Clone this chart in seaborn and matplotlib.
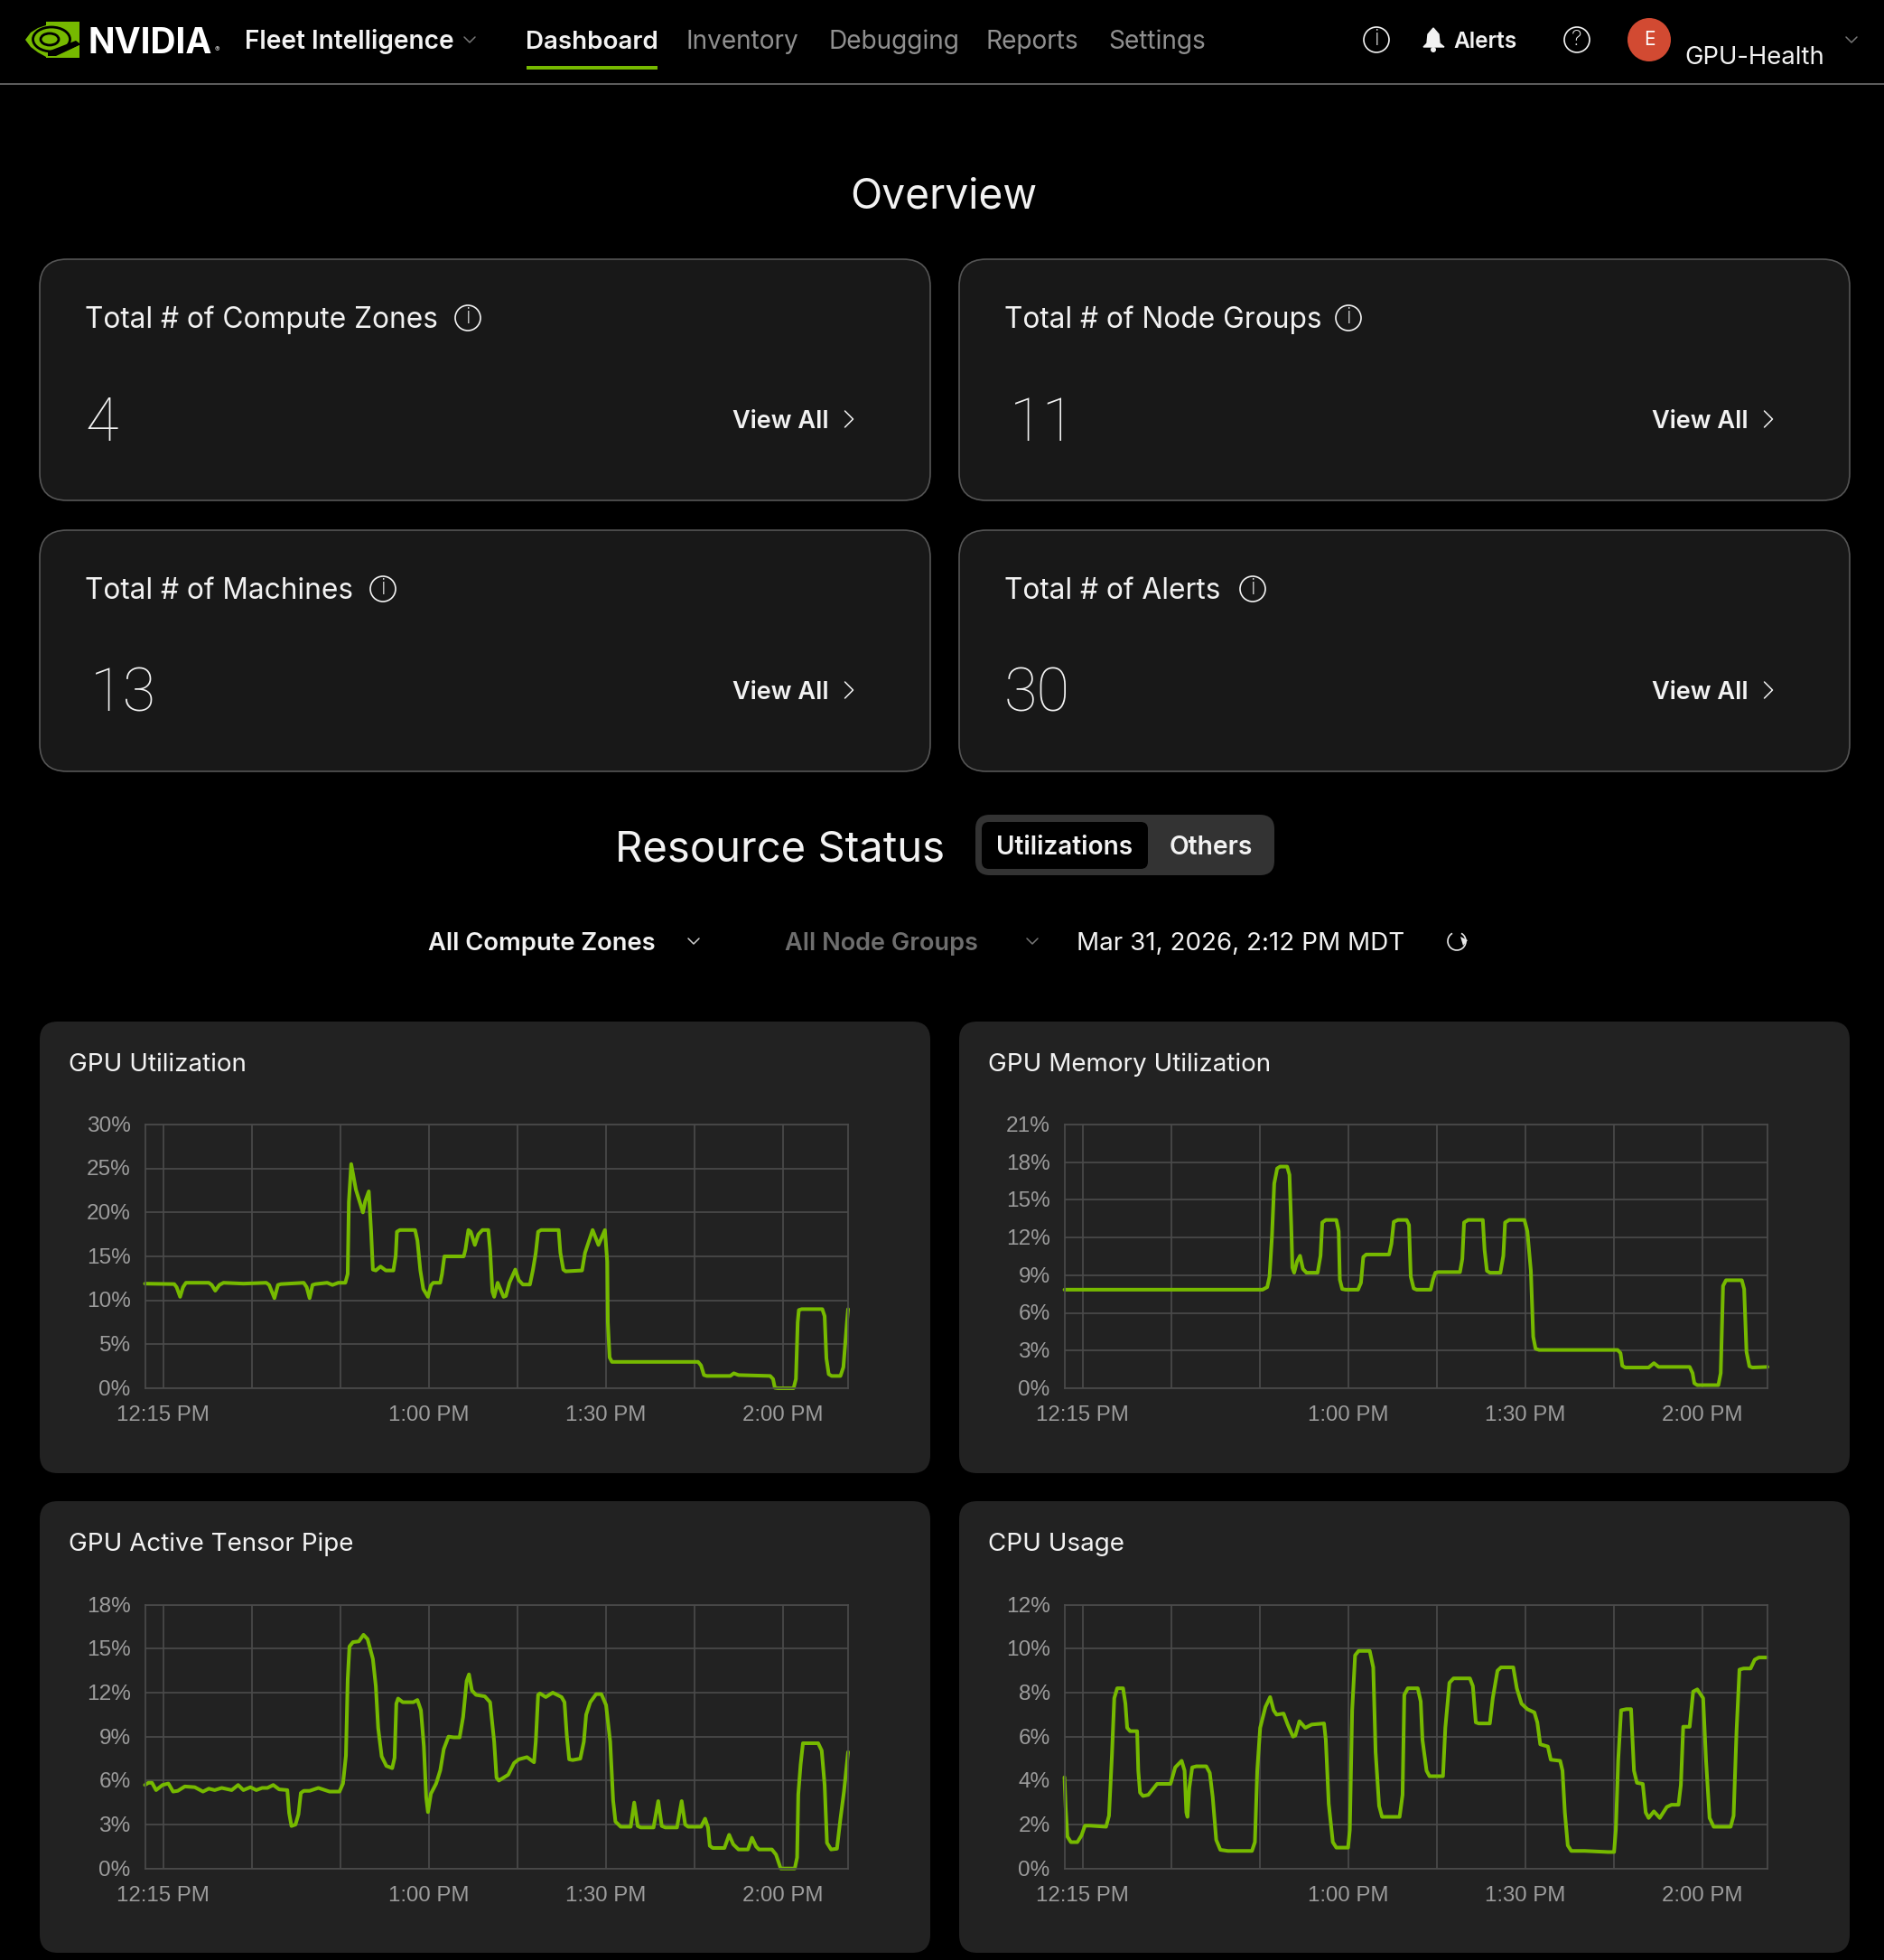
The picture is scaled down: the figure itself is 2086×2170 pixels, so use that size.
import matplotlib
matplotlib.use("Agg")
import matplotlib.pyplot as plt
import seaborn as sns
from matplotlib.patches import FancyBboxPatch, Circle, Rectangle, Ellipse, Arc, Polygon
from matplotlib.transforms import ScaledTranslation

W, H = 2086, 2170
GREEN = "#76b900"
GRID = "#4b4b4b"
UI_FONT = ["Inter", "DejaVu Sans"]

# minutes after 12:12 PM, the axis spans these 120 units
tick_minutes = [3.1, 18.3, 33.4, 48.5, 63.6, 78.7, 93.8, 108.9]
tick_labels = ["12:15 PM", "", "", "1:00 PM", "", "1:30 PM", "", "2:00 PM"]

util_t = [0, 5.0, 5.4, 6.0, 6.5, 7.0, 10.9, 11.4, 12.0, 12.7, 13.4, 16.8, 20.7, 21.2, 22.1, 22.7, 23.2, 27.1, 27.6, 28.1,
          28.6, 29.1, 31.1, 32.0, 33.0, 34.2, 34.6, 34.8, 35.2, 36.0, 37.2, 37.6, 38.2, 38.6, 38.9, 39.4, 40.2, 41.1, 42.4, 42.8,
          43.0, 43.5, 46.1, 46.5, 47.0, 47.5, 48.3, 48.8, 49.2, 50.4, 50.7, 51.1, 51.7, 54.4, 54.7, 55.2, 55.6, 56.3, 56.9, 57.6,
          58.6, 58.9, 59.3, 59.6, 60.2, 61.2, 61.6, 62.2, 63.2, 63.8, 64.5, 65.7, 66.2, 66.7, 67.1, 67.6, 70.6, 70.9, 71.4, 71.8,
          74.6, 75.1, 76.4, 77.4, 78.5, 78.9, 79.0, 79.3, 79.7, 94.4, 94.9, 95.4, 95.9, 99.9, 100.5, 101.3, 106.7, 107.2, 107.5, 108.0,
          110.7, 111.1, 111.4, 111.6, 112.1, 115.6, 116.0, 116.3, 116.7, 117.2, 118.7, 119.2, 119.8, 120]
util_v = [11.9, 11.85, 11.5, 10.4, 11.5, 12.0, 12.0, 11.75, 11.1, 11.75, 12.0, 11.9, 12.0, 11.75, 10.25, 11.75, 11.85, 12.0, 11.5, 10.25,
          11.75, 11.85, 12.0, 11.75, 12.0, 12.0, 13.0, 21.2, 25.5, 22.6, 20.0, 21.3, 22.4, 17.8, 13.5, 13.4, 13.85, 13.4, 13.4, 15.1,
          17.8, 18.0, 18.0, 16.8, 13.4, 11.3, 10.4, 11.7, 12.0, 12.0, 13.0, 15.0, 15.0, 15.0, 15.8, 18.0, 17.8, 16.3, 17.5, 18.0,
          18.0, 15.8, 11.0, 10.4, 12.0, 10.4, 10.5, 12.0, 13.5, 12.3, 11.8, 11.8, 13.4, 15.4, 17.8, 18.0, 18.0, 15.4, 13.5, 13.3,
          13.4, 15.4, 18.0, 16.3, 18.0, 14.4, 7.5, 3.5, 3.0, 3.0, 2.6, 1.5, 1.4, 1.4, 1.7, 1.5, 1.4, 1.05, 0.05, 0,
          0, 1.05, 7.5, 8.9, 9.0, 9.0, 8.2, 3.4, 1.6, 1.4, 1.4, 2.4, 7.5, 9.0]

mem_t = [0, 33.8, 34.6, 35.0, 35.4, 35.8, 36.3, 36.8, 38.0, 38.4, 38.7, 38.9, 39.2, 39.7, 40.2, 40.7, 41.3, 43.2, 43.7, 44.0,
         44.6, 46.4, 46.8, 47.0, 47.4, 48.0, 50.1, 50.6, 51.0, 51.5, 55.4, 55.8, 56.2, 56.9, 58.4, 58.8, 59.1, 59.6, 60.1, 62.5,
         62.9, 63.3, 63.8, 67.5, 67.9, 68.2, 68.9, 71.4, 71.7, 72.1, 72.6, 74.4, 74.9, 75.2, 75.9, 78.5, 79.0, 79.6, 80.0, 80.4,
         81.0, 94.4, 94.9, 95.2, 95.7, 99.7, 100.6, 101.4, 106.7, 107.2, 107.5, 108.0, 111.6, 112.0, 112.4, 112.9, 115.6, 116.0, 116.4, 116.9,
         117.4, 120]
mem_v = [7.85, 7.85, 8.05, 8.9, 12.0, 16.3, 17.5, 17.65, 17.65, 17.0, 13.0, 9.6, 9.2, 10.1, 10.55, 9.5, 9.2, 9.2, 10.55, 13.2,
         13.4, 13.4, 12.5, 8.65, 7.9, 7.85, 7.85, 8.4, 10.45, 10.65, 10.65, 11.5, 13.25, 13.4, 13.4, 13.0, 8.9, 7.95, 7.85, 7.85,
         8.65, 9.2, 9.25, 9.25, 10.3, 13.2, 13.4, 13.4, 11.0, 9.35, 9.2, 9.2, 10.55, 13.2, 13.4, 13.4, 12.5, 9.35, 4.1, 3.15,
         3.05, 3.05, 2.8, 1.8, 1.65, 1.65, 2.0, 1.7, 1.7, 1.2, 0.4, 0.25, 0.25, 1.2, 8.15, 8.6, 8.6, 7.9, 2.9, 1.75,
         1.65, 1.7]

tensor_t = [0, 0.6, 1.2, 1.9, 3.0, 4.0, 4.8, 5.6, 6.8, 8.5, 9.9, 10.9, 11.9, 13.1, 14.8, 15.9, 16.8, 18.0, 19.0, 20.0,
            20.9, 21.9, 22.9, 24.3, 24.6, 25.0, 25.7, 26.2, 26.6, 27.1, 28.1, 29.6, 31.5, 33.2, 33.8, 34.3, 34.6, 34.9, 35.5, 36.5,
            37.3, 38.0, 38.9, 39.4, 39.8, 40.4, 41.2, 42.2, 42.6, 42.9, 43.2, 44.0, 45.8, 46.5, 47.1, 47.6, 48.0, 48.3, 48.8, 49.7,
            50.4, 51.0, 51.8, 52.7, 53.7, 54.3, 54.9, 55.3, 55.8, 56.5, 58.0, 58.9, 59.6, 60.0, 60.4, 62.0, 63.0, 63.8, 65.2, 66.4,
            66.7, 67.1, 67.4, 68.4, 69.6, 71.1, 71.6, 72.0, 72.4, 73.0, 74.3, 74.9, 75.3, 76.0, 77.0, 77.9, 78.7, 79.4, 79.9, 80.3,
            81.2, 82.9, 83.5, 84.1, 84.6, 86.8, 87.6, 88.2, 88.8, 90.8, 91.6, 92.2, 92.7, 94.9, 95.6, 96.1, 96.4, 96.9, 98.9, 99.7,
            100.4, 101.3, 102.9, 103.6, 104.3, 104.8, 107.0, 107.7, 108.5, 109.2, 110.9, 111.3, 111.5, 111.9, 112.3, 113.1, 114.9, 115.5, 116.0, 116.4,
            117.1, 118.1, 118.7, 119.3, 120]
tensor_v = [5.7, 5.85, 5.85, 5.35, 5.7, 5.8, 5.25, 5.3, 5.6, 5.55, 5.25, 5.45, 5.35, 5.5, 5.35, 5.7, 5.35, 5.55, 5.35, 5.5,
            5.5, 5.7, 5.4, 5.35, 3.8, 2.9, 3.0, 3.7, 5.15, 5.3, 5.3, 5.5, 5.25, 5.25, 5.8, 7.7, 12.9, 15.15, 15.45, 15.5,
            15.95, 15.65, 14.3, 12.45, 9.6, 7.65, 7.0, 6.85, 7.55, 11.25, 11.6, 11.35, 11.35, 11.5, 10.8, 8.35, 4.85, 3.85, 5.1, 5.8,
            6.7, 8.15, 9.0, 8.95, 8.95, 10.35, 12.8, 13.25, 12.15, 11.85, 11.75, 11.35, 8.65, 6.2, 6.0, 6.4, 7.2, 7.45, 7.6, 7.25,
            8.65, 11.85, 11.95, 11.7, 12.0, 11.7, 11.35, 9.05, 7.45, 7.4, 7.5, 8.65, 10.5, 11.35, 11.9, 11.9, 11.15, 8.65, 4.65, 3.2,
            2.85, 2.85, 4.5, 2.9, 2.8, 2.8, 4.6, 2.9, 2.8, 2.8, 4.6, 3.0, 2.85, 2.85, 3.4, 2.8, 1.55, 1.4, 1.4, 2.3,
            1.65, 1.3, 1.3, 2.1, 1.5, 1.3, 1.3, 0.95, 0, 0, 0, 0.75, 5.05, 7.1, 8.55, 8.55, 8.55, 8.05, 5.7, 1.75,
            1.3, 1.35, 3.4, 5.25, 7.95]

cpu_t = [0, 0.2, 0.5, 1.1, 2.2, 2.9, 3.5, 4.3, 7.1, 7.6, 8.1, 8.5, 9.0, 10.0, 10.4, 10.7, 11.2, 12.4, 12.6, 12.9,
         13.4, 14.3, 15.8, 18.1, 18.9, 20.0, 20.5, 20.8, 21.0, 21.3, 21.8, 22.5, 24.2, 24.8, 25.3, 25.9, 26.6, 27.9, 32.0, 32.5,
         32.9, 33.4, 34.3, 35.1, 35.7, 36.2, 37.4, 38.1, 39.0, 39.4, 40.1, 41.1, 42.2, 44.3, 44.6, 45.1, 45.8, 46.4, 48.4, 48.7,
         49.1, 49.6, 50.2, 52.1, 52.7, 53.1, 53.7, 54.2, 54.9, 57.2, 57.7, 58.0, 58.6, 60.3, 60.8, 61.1, 61.8, 62.3, 64.6, 65.0,
         65.7, 66.4, 69.2, 69.7, 70.2, 70.7, 72.6, 73.1, 73.9, 74.5, 76.6, 77.2, 78.0, 79.0, 80.2, 80.7, 81.2, 82.5, 83.0, 84.6,
         85.0, 85.4, 85.9, 86.5, 88.8, 92.8, 93.8, 94.1, 94.5, 95.0, 95.9, 96.7, 97.2, 97.7, 98.7, 99.2, 99.7, 100.6, 101.6, 102.8,
         103.6, 104.8, 105.2, 105.6, 106.7, 107.3, 108.0, 109.0, 109.5, 110.1, 110.8, 113.7, 114.2, 114.7, 115.2, 115.9, 117.1, 117.8, 118.5, 119.8]
cpu_v = [4.15, 2.8, 1.45, 1.2, 1.2, 1.5, 1.95, 1.95, 1.9, 2.4, 5.15, 7.75, 8.2, 8.2, 7.5, 6.4, 6.25, 6.25, 4.45, 3.45,
         3.3, 3.35, 3.85, 3.85, 4.6, 4.9, 4.45, 2.55, 2.35, 3.65, 4.6, 4.65, 4.65, 4.35, 3.25, 1.3, 0.85, 0.8, 0.8, 1.2,
         4.45, 6.4, 7.35, 7.8, 7.2, 7.0, 7.05, 6.55, 6.0, 6.05, 6.7, 6.4, 6.55, 6.6, 5.85, 2.95, 1.2, 0.95, 0.95, 1.75,
         7.2, 9.7, 9.9, 9.9, 9.15, 5.3, 2.85, 2.35, 2.35, 2.35, 3.35, 7.9, 8.2, 8.2, 7.6, 5.85, 4.45, 4.2, 4.2, 6.4,
         8.45, 8.65, 8.65, 8.3, 6.65, 6.6, 6.6, 7.75, 9.0, 9.15, 9.15, 8.2, 7.5, 7.25, 7.1, 6.65, 5.65, 5.55, 4.95, 4.9,
         4.45, 2.55, 1.05, 0.8, 0.8, 0.75, 0.75, 1.75, 4.9, 7.2, 7.25, 7.25, 4.45, 3.9, 3.85, 2.55, 2.3, 2.6, 2.3, 2.8,
         2.9, 2.9, 3.8, 6.45, 6.45, 8.05, 8.15, 7.75, 4.9, 2.3, 1.9, 1.9, 2.4, 6.25, 9.05, 9.1, 9.1, 9.5, 9.6, 9.6]

chart_titles = ["GPU Utilization", "GPU Memory Utilization", "GPU Active Tensor Pipe", "CPU Usage"]
chart_series = [(util_t, util_v), (mem_t, mem_v), (tensor_t, tensor_v), (cpu_t, cpu_v)]
chart_yticks = [[0, 5, 10, 15, 20, 25, 30], [0, 3, 6, 9, 12, 15, 18, 21], [0, 3, 6, 9, 12, 15, 18], [0, 2, 4, 6, 8, 10, 12]]

stat_titles = ["Total # of Compute Zones", "Total # of Node Groups", "Total # of Machines", "Total # of Alerts"]
stat_values = ["4", "11", "13", "30"]
nav_items = ["Inventory", "Debugging", "Reports", "Settings"]

sns.set_theme(style="darkgrid", rc={
    "figure.facecolor": "#000000",
    "axes.facecolor": "#222222",
    "axes.edgecolor": GRID,
    "axes.linewidth": 1.2,
    "grid.color": GRID,
    "grid.linewidth": 1.2,
    "xtick.color": "#9c9c9c",
    "ytick.color": "#9c9c9c",
})
plt.rcParams["font.family"] = UI_FONT

fig = plt.figure(figsize=(W / 100, H / 100), dpi=100)

# page background in pixel coordinates, everything UI goes here
ui = fig.add_axes([0, 0, 1, 1], zorder=0)
ui.set_xlim(0, W)
ui.set_ylim(H, 0)
ui.axis("off")


def txt(x, y, s, size, color="#f2f2f2", weight="normal", ha="left", **kw):
    # y is the middle of the capitals, goes on the baseline so all rows line up
    ui.text(x, y + size * 0.5, s, fontsize=size, color=color, fontweight=weight, ha=ha, va="baseline", **kw)


def card(x0, y0, x1, y1, face, edge="none", radius=20, lw=0):
    ui.add_patch(FancyBboxPatch((x0, y0), x1 - x0, y1 - y0, boxstyle=f"round,pad=0,rounding_size={radius}",
                                fc=face, ec=edge, lw=lw))


def chevron(x, y, size=6, color="#cfcfcf", right=False):
    if right:
        ui.plot([x - size / 2, x + size / 2, x - size / 2], [y - size, y, y + size], color=color, lw=1.1)
    else:
        ui.plot([x - size, x, x + size], [y - size / 2, y + size / 2, y - size / 2], color=color, lw=1.1)


def round_icon(x, y, s, r=14, size=18):
    ui.add_patch(Circle((x, y), r, fc="none", ec="#f2f2f2", lw=1.2))
    ui.text(x, y, s, fontsize=size, color="#f2f2f2", ha="center", va="center", fontweight="light")


# header
ui.add_patch(Rectangle((0, 92), W, 2, fc="#5c5c5c", ec="none"))
ui.add_patch(Polygon([[51, 28], [42, 31], [34, 36], [28, 44], [34, 52], [42, 58], [51, 63]], fc=GREEN, ec="none"))
ui.add_patch(Rectangle((51, 24), 37, 40, fc=GREEN, ec="none"))
ui.add_patch(Ellipse((57, 43.5), 41, 27, fc="none", ec="#000000", lw=2))
ui.add_patch(Ellipse((55, 43.5), 20, 13, fc="none", ec="#000000", lw=2))
ui.add_patch(Polygon([[84, 45], [88, 48], [88, 50], [62, 62], [53, 62], [53, 57]], fc="#000000", ec="none"))
ui.add_patch(Polygon([[88, 50], [88, 64], [60, 64]], fc=GREEN, ec="none"))
txt(97, 45, "NVIDIA", 28, color="#ffffff", weight="bold")
ui.text(238, 57, "®", fontsize=6, color="#cccccc", va="baseline")
txt(271, 44, "Fleet Intelligence", 20.2, weight="semibold")
chevron(520, 44, color="#777777")
txt(582, 44, "Dashboard", 20, weight="semibold")
ui.add_patch(Rectangle((583, 73), 145, 4, fc=GREEN, ec="none"))
for x, s in zip([760, 917, 1092, 1227], nav_items):
    txt(x, 44, s, 20.2, color="#8f8f8f")
round_icon(1524, 44, "i")
ui.add_patch(Polygon([[1576, 52], [1580, 48], [1581, 38], [1587, 31], [1593, 38], [1594, 48], [1599, 52]], fc="#f2f2f2", ec="#f2f2f2", lw=1))
ui.add_patch(Circle((1587, 55), 3, fc="#f2f2f2", ec="none"))
txt(1609, 44, "Alerts", 17.6, weight="semibold")
round_icon(1746, 44, "?", size=17)
ui.add_patch(Circle((1826, 44), 24, fc="#d24a32", ec="none"))
ui.text(1826, 44, "E", fontsize=15, color="#ffffff", ha="center", va="center")
txt(1865, 61, "GPU-Health", 19.8)
chevron(2050, 44, color="#777777")

# overview cards
txt(1045, 214, "Overview", 33.2, ha="center")
for i, (title, value) in enumerate(zip(stat_titles, stat_values)):
    x0 = 44 if i % 2 == 0 else 1062
    y0 = 287 if i < 2 else 587
    card(x0, y0, x0 + 986, y0 + 267, "#181818", edge="#555555", radius=30, lw=1.2)
for x, y, s in [(518, 352, "i"), (1493, 352, "i"), (424, 652, "i"), (1387, 652, "i")]:
    round_icon(x, y, s)
for i, (title, value) in enumerate(zip(stat_titles, stat_values)):
    x0 = 94 if i % 2 == 0 else 1112
    y0 = 352 if i < 2 else 652
    txt(x0, y0, title, 22.8)
    # Roboto digits are all one width, which gives the wide 11 and 13
    txt(x0 + (6 if value in ("11", "13") else 0), y0 + 112, value, 48, weight="light", family=["Roboto", "DejaVu Sans"])
    txt(x0 + 717, y0 + 112, "View All", 19.5, weight="semibold")
    chevron(x0 + 846, y0 + 112, size=9, color="#f2f2f2", right=True)

# resource status row
txt(681, 937, "Resource Status", 34)
card(1080, 902, 1411, 969, "#333333", radius=16)
card(1087, 910, 1271, 962, "#000000", radius=8)
txt(1179, 936, "Utilizations", 20.2, weight="semibold", ha="center")
txt(1341, 936, "Others", 20.4, weight="semibold", ha="center")
txt(474, 1042, "All Compute Zones", 19.7, weight="semibold")
chevron(768, 1042, color="#cfcfcf")
txt(869, 1042, "All Node Groups", 19.5, color="#6e6e6e", weight="semibold")
chevron(1143, 1042, color="#777777")
txt(1192, 1042, "Mar 31, 2026, 2:12 PM MDT", 20)
ui.add_patch(Arc((1613, 1042), 20, 20, theta1=-60, theta2=240, color="#e8e8e8", lw=1.2))
ui.add_patch(Polygon([[1617, 1037], [1625, 1041], [1620, 1047]], fc="#e8e8e8", ec="none"))

# chart cards and charts
plot_w = 778.5
plot_h = 292
for i in range(4):
    title = chart_titles[i]
    t, v = chart_series[i]
    yt = chart_yticks[i]
    card_x = 44 if i % 2 == 0 else 1062
    card_y = 1131 if i < 2 else 1662
    card(card_x, card_y, card_x + 986, card_y + 500, "#222222", radius=20)
    txt(card_x + 32, card_y + 45, title, 20)

    left = 160.5 if i % 2 == 0 else 1178.6
    bottom = 1537 if i < 2 else 2068.7
    ax = fig.add_axes([left / W, 1 - bottom / H, plot_w / W, plot_h / H], zorder=1)
    sns.lineplot(x=t, y=v, ax=ax, color=GREEN, linewidth=2.9, estimator=None, errorbar=None, clip_on=False,
                 solid_joinstyle="round", solid_capstyle="round")
    ax.set_xlim(0, 120)
    ax.set_ylim(0, yt[-1])
    ax.set_xticks(tick_minutes)
    ax.set_xticklabels(tick_labels)
    ax.set_yticks(yt)
    ax.set_yticklabels([f"{y}%" for y in yt], va="center_baseline")
    ax.set_xlabel("")
    ax.set_ylabel("")
    ax.tick_params(axis="x", length=0, pad=14, labelsize=17.3, labelfontfamily="Liberation Sans")
    ax.tick_params(axis="y", length=0, pad=11.5, labelsize=17.6, labelfontfamily="Liberation Sans")
    for lab in ax.get_yticklabels():
        lab.set_transform(lab.get_transform() + ScaledTranslation(0, 0.5 / 72, fig.dpi_scale_trans))
    for side in ax.spines.values():
        side.set_visible(True)
        side.set_color(GRID)

fig.savefig("out.png", dpi=100, facecolor="#000000")
